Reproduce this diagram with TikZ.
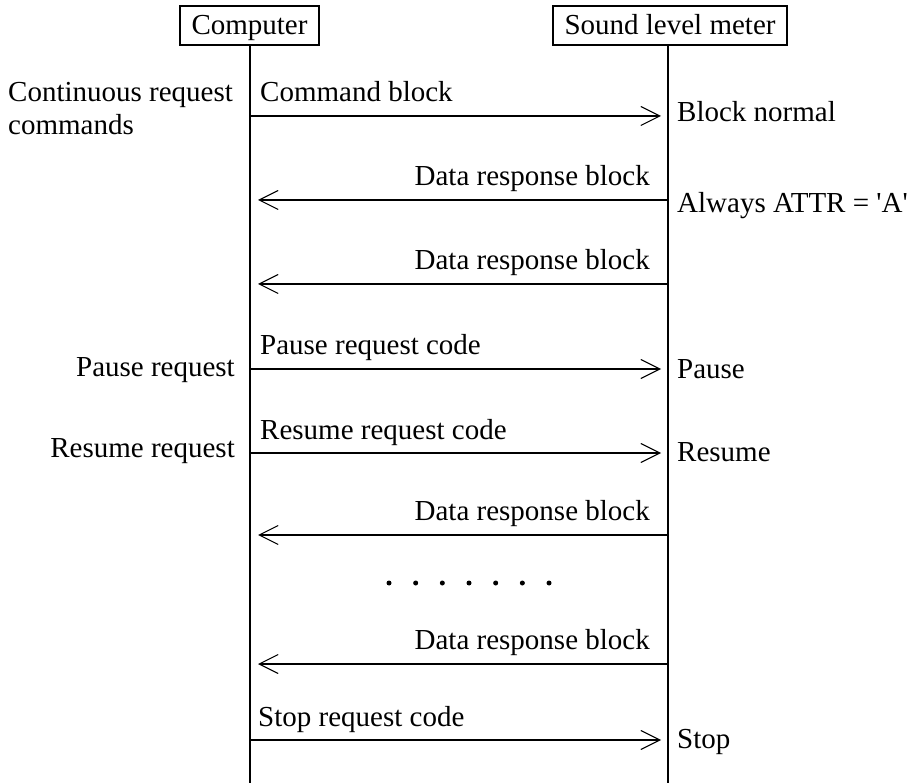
\documentclass[tikz,border=0pt]{standalone}
\usepackage{fontspec}
\setmainfont{Liberation Serif}
\usetikzlibrary{arrows.meta}
\begin{document}
\begin{tikzpicture}[x=1pt,y=-1pt,
  every node/.style={font=\fontsize{29}{33}\selectfont, inner sep=0pt},
  actor/.style={draw, line width=1.1pt, minimum height=39pt, inner xsep=11.5pt, text height=19pt, text depth=0pt, anchor=center},
  life/.style={line width=1.1pt},
  msg/.style={line width=1.1pt, -{Straight Barb[length=19pt,width=19pt,line width=1.1pt]}},
  lbl/.style={anchor=base west},
  rlbl/.style={anchor=base east},
  dot/.style={circle, fill=black, minimum size=5pt, inner sep=0pt}]
\useasboundingbox (0,0) rectangle (916,783);
\node[actor] (comp) at (249.5,25.5) {Computer};
\node[actor] (slm) at (670,25.5) {Sound level meter};
\coordinate (cbot) at (250,783);
\coordinate (sbot) at (668,783);
\draw[life] (comp.south -| cbot) -- (cbot);
\draw[life] (slm.south -| sbot) -- (sbot);
% message endpoints
\foreach \n/\y in {1/116,2/200,3/284,4/369,5/453,6/535,7/664,8/740}{
  \coordinate (cl\n) at (250,\y);
  \coordinate (cr\n) at (668,\y);
  \coordinate (tl\n) at (258,\y);
  \coordinate (tr\n) at (661,\y);
}
\draw[msg] (cl1) -- (tr1);
\draw[msg] (cr2) -- (tl2);
\draw[msg] (cr3) -- (tl3);
\draw[msg] (cl4) -- (tr4);
\draw[msg] (cl5) -- (tr5);
\draw[msg] (cr6) -- (tl6);
\draw[msg] (cr7) -- (tl7);
\draw[msg] (cl8) -- (tr8);
% message labels
\node[lbl] (m1) at (260,102) {Command block};
\node[rlbl] (m2) at (650,186) {Data response block};
\node[rlbl] (m3) at (650,270) {Data response block};
\node[lbl] (m4) at (260,355) {Pause request code};
\node[lbl] (m5) at (260,440) {Resume request code};
\node[rlbl] (m6) at (650,520) {Data response block};
\node[rlbl] (m7) at (650,649) {Data response block};
\node[lbl] (m8) at (258,726) {Stop request code};
% left side labels
\node[anchor=base west, align=left] (l1) at (8,135) {Continuous request\\commands};
\node[rlbl] (l4) at (235,377) {Pause request};
\node[rlbl] (l5) at (235,457) {Resume request};
% right side labels
\node[lbl] (r1) at (677,122) {Block normal};
\node[lbl] (r2) at (677,213) {Always ATTR = \textquotesingle A\textquotesingle};
\node[lbl] (r4) at (677,379) {Pause};
\node[lbl] (r5) at (677,462) {Resume};
\node[lbl] (r8) at (677,748) {Stop};
% dots
\foreach \i in {0,...,6}{
  \node[dot] (d\i) at (389+26.67*\i,583) {};
}
\end{tikzpicture}
\end{document}
